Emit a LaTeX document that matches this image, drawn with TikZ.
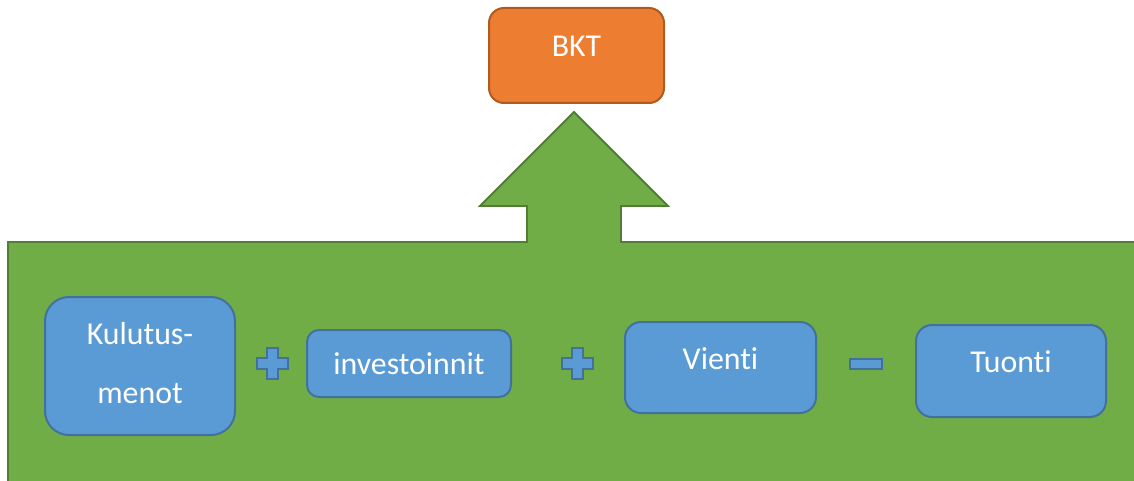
\documentclass[tikz,border=0pt]{standalone}
\usepackage{fontspec}
\setmainfont[Ligatures={NoCommon}]{Carlito}
\definecolor{grn}{HTML}{70AD47}
\definecolor{grnb}{HTML}{507E32}
\definecolor{blu}{HTML}{5B9BD5}
\definecolor{blub}{HTML}{41719C}
\definecolor{org}{HTML}{ED7D31}
\definecolor{orgb}{HTML}{AE5A21}
\tikzset{
  box/.style={draw=blub, fill=blu, line width=2pt, rectangle, inner sep=0pt},
  topbox/.style={draw=orgb, fill=org, line width=2pt, rectangle, rounded corners=15pt, inner sep=0pt, minimum width=175pt, minimum height=95pt},
  lbl/.style={anchor=base, text=white, inner sep=0pt, font=\fontsize{31.8}{37}\selectfont},
  sign/.style={draw=blub, fill=blu, line width=2pt},
}
\begin{document}
\begin{tikzpicture}[x=1pt,y=-1pt]
\useasboundingbox (0,0) rectangle (1134,481);
\begin{scope}
\clip (0,0) rectangle (1134,481);
\draw[fill=grn, draw=grnb, line width=1.8pt, line join=miter]
  (8,500) -- (8,242) -- (527,242) -- (527,206) -- (480,206) -- (574,112)
  -- (668,206) -- (621,206) -- (621,242) -- (1150,242) -- (1150,500) -- cycle;
\end{scope}
% top box
\node[topbox] (bkt) at (576.5,55.5) {};
\node[lbl] (bktt) at (576.5,57) {BKT};
% bottom boxes
\node[box, rounded corners=24pt, minimum width=190pt, minimum height=138pt] (kul) at (140,366) {};
\node[lbl] (kult1) at (140,344) {Kulutus-};
\node[lbl] (kult2) at (140,403) {menot};
\node[box, rounded corners=12pt, minimum width=204pt, minimum height=67pt] (inv) at (409,363.5) {};
\node[lbl] (invt) at (409,374) {investoinnit};
\node[box, rounded corners=16pt, minimum width=191pt, minimum height=91pt] (vie) at (720.5,367.5) {};
\node[lbl] (viet) at (720.5,369) {Vienti};
\node[box, rounded corners=16pt, minimum width=190pt, minimum height=92pt] (tuo) at (1011,371) {};
\node[lbl] (tuot) at (1011,372) {Tuonti};
% operators
\foreach \cx/\cy in {272.5/363.5, 577.5/363.5}{
  \draw[sign] (\cx-5.5,\cy-15.5) -- (\cx+5.5,\cy-15.5) -- (\cx+5.5,\cy-5.5) -- (\cx+15.5,\cy-5.5)
    -- (\cx+15.5,\cy+5.5) -- (\cx+5.5,\cy+5.5) -- (\cx+5.5,\cy+15.5) -- (\cx-5.5,\cy+15.5)
    -- (\cx-5.5,\cy+5.5) -- (\cx-15.5,\cy+5.5) -- (\cx-15.5,\cy-5.5) -- (\cx-5.5,\cy-5.5) -- cycle;
}
\draw[sign] (849.5,358.5) rectangle (881.5,368.5);
\end{tikzpicture}
\end{document}
